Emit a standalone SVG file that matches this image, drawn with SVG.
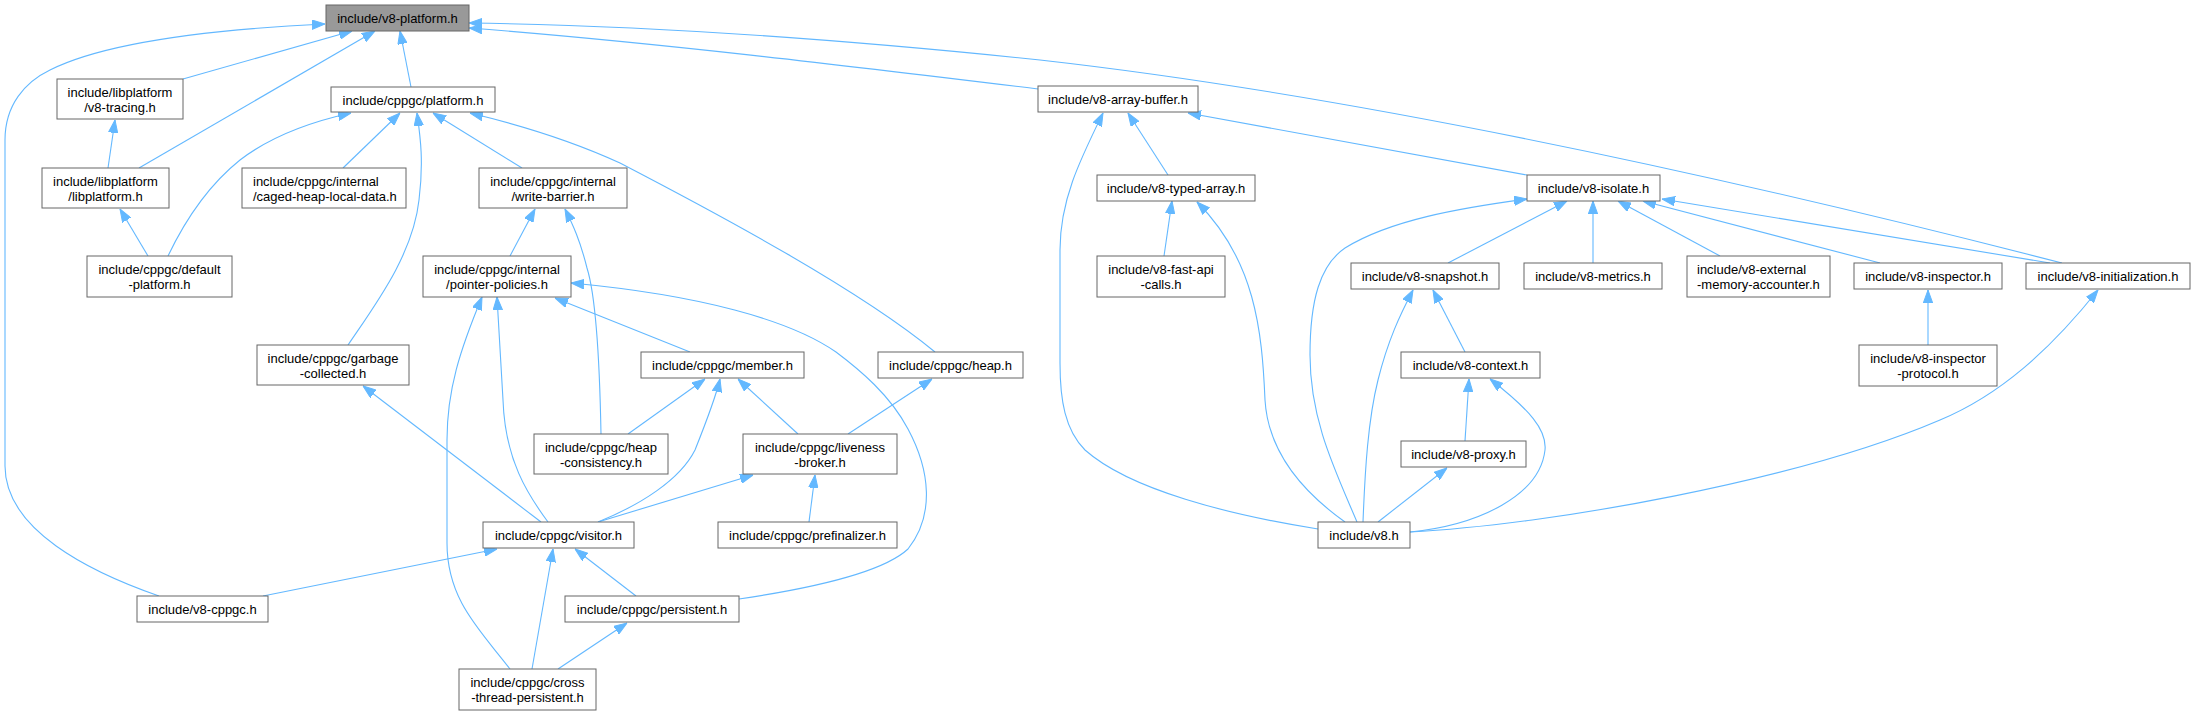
<svg xmlns="http://www.w3.org/2000/svg" width="2195" height="716" viewBox="0 0 2195 716">
<style>
.n rect{fill:#ffffff;stroke:#666666;stroke-width:1}
.n.root rect{fill:#999999}
.n text{font-family:"Liberation Sans",Arial,Helvetica,sans-serif;font-size:13px;fill:#000000;text-anchor:middle}
.n text.l{text-anchor:start}
#edges path{fill:none;stroke:#63b8ff;stroke-width:1.1;marker-end:url(#a)}
</style>
<defs>
<marker id="a" viewBox="0 0 13 10" refX="13" refY="5" markerWidth="13" markerHeight="10" orient="auto" markerUnits="userSpaceOnUse">
<path d="M0,0.3 L13,5 L0,9.7 z" fill="#63b8ff" stroke="#63b8ff" stroke-width="1"/>
</marker>
</defs>
<rect width="2195" height="716" fill="#ffffff"/>
<g id="edges">
<path d="M159,596 C90,572 5,530 5,466 L5,140 C5,105 25,82 50,70 C100,45 200,30 325,24"/>
<path d="M183,79 L352,31"/>
<path d="M139,168 L375,31"/>
<path d="M411,87 L400,31"/>
<path d="M108,168 L115,120"/>
<path d="M148,256 L120,209"/>
<path d="M168,256 C190,210 215,180 240,160 C270,137 310,122 351,113"/>
<path d="M343,168 L400,113"/>
<path d="M348,345 C375,305 413,255 419,200 C424,160 420,135 417,113"/>
<path d="M522,168 L433,113"/>
<path d="M935,352 C860,290 720,215 620,163 C570,140 520,125 470,113"/>
<path d="M510,256 L535,209"/>
<path d="M601,434 C600,380 597,300 587,268 C580,240 573,225 565,209"/>
<path d="M510,669 C480,630 447,600 447,543 L447,440 C447,390 460,350 482,297"/>
<path d="M548,522 C528,495 505,460 503,400 L497,297"/>
<path d="M690,352 L555,298"/>
<path d="M739,599 C800,590 880,575 908,549 C935,515 930,470 908,429 C890,395 860,370 836,352 C790,320 700,295 571,283"/>
<path d="M628,434 L705,379"/>
<path d="M598,522 C640,505 680,480 695,450 C705,425 715,400 720,379"/>
<path d="M798,434 L738,379"/>
<path d="M848,434 L932,379"/>
<path d="M598,522 L753,475"/>
<path d="M809,522 L815,475"/>
<path d="M636,596 L575,549"/>
<path d="M532,669 L553,549"/>
<path d="M558,669 L627,623"/>
<path d="M263,596 L497,549"/>
<path d="M541,522 L363,386"/>
<path d="M1038,89 C850,66 650,42 469,28"/>
<path d="M2062,263 C1700,170 1350,95 1040,60 C800,35 620,25 469,23"/>
<path d="M1168,175 L1128,113"/>
<path d="M1318,529 C1230,515 1130,490 1085,450 C1065,430 1060,400 1060,363 L1060,250 C1060,200 1080,160 1103,113"/>
<path d="M1164,256 L1172,201"/>
<path d="M1345,522 C1300,490 1268,450 1265,400 C1262,330 1255,260 1197,202"/>
<path d="M1527,175 L1188,113"/>
<path d="M1357,522 C1335,470 1310,420 1310,355 C1310,300 1320,265 1345,248 C1390,220 1460,208 1527,199"/>
<path d="M1448,263 L1567,201"/>
<path d="M1593,263 L1593,201"/>
<path d="M1720,256 L1618,201"/>
<path d="M1880,263 L1643,201"/>
<path d="M2050,263 L1662,199"/>
<path d="M1465,352 L1433,290"/>
<path d="M1363,522 C1365,470 1368,420 1378,380 C1388,340 1400,315 1413,290"/>
<path d="M1465,441 L1469,379"/>
<path d="M1378,522 L1447,468"/>
<path d="M1410,532 C1480,525 1540,495 1545,450 C1547,430 1530,410 1490,379"/>
<path d="M1410,532 C1550,525 1800,480 1940,420 C2000,395 2050,350 2098,290"/>
<path d="M1928,345 L1928,290"/>
</g>
<g id="n_v8platform" class="n root"><rect x="326" y="5" width="143" height="26"/><text x="397.5" y="22.5">include/v8-platform.h</text></g>
<g id="n_tracing" class="n"><rect x="57" y="79" width="126" height="40"/><text x="120" y="96.5">include/libplatform</text><text x="120" y="111.5">/v8-tracing.h</text></g>
<g id="n_libplatform" class="n"><rect x="42" y="168" width="127" height="40"/><text x="105.5" y="185.5">include/libplatform</text><text x="105.5" y="200.5">/libplatform.h</text></g>
<g id="n_cppgcplatform" class="n"><rect x="331" y="87" width="164" height="25"/><text x="413" y="104.5">include/cppgc/platform.h</text></g>
<g id="n_caged" class="n"><rect x="242" y="168" width="164" height="40"/><text class="l" x="253" y="185.5">include/cppgc/internal</text><text class="l" x="253" y="200.5">/caged-heap-local-data.h</text></g>
<g id="n_writebarrier" class="n"><rect x="479" y="168" width="148" height="40"/><text x="553" y="185.5">include/cppgc/internal</text><text x="553" y="200.5">/write-barrier.h</text></g>
<g id="n_default" class="n"><rect x="87" y="256" width="145" height="41"/><text x="159.5" y="273.5">include/cppgc/default</text><text x="159.5" y="288.5">-platform.h</text></g>
<g id="n_pointer" class="n"><rect x="423" y="256" width="148" height="41"/><text x="497" y="273.5">include/cppgc/internal</text><text x="497" y="288.5">/pointer-policies.h</text></g>
<g id="n_garbage" class="n"><rect x="257" y="345" width="152" height="40"/><text x="333" y="362.5">include/cppgc/garbage</text><text x="333" y="377.5">-collected.h</text></g>
<g id="n_member" class="n"><rect x="641" y="352" width="163" height="26"/><text x="722.5" y="369.5">include/cppgc/member.h</text></g>
<g id="n_heap" class="n"><rect x="878" y="352" width="145" height="26"/><text x="950.5" y="369.5">include/cppgc/heap.h</text></g>
<g id="n_heapcons" class="n"><rect x="534" y="434" width="134" height="40"/><text x="601" y="451.5">include/cppgc/heap</text><text x="601" y="466.5">-consistency.h</text></g>
<g id="n_liveness" class="n"><rect x="743" y="434" width="154" height="40"/><text x="820" y="451.5">include/cppgc/liveness</text><text x="820" y="466.5">-broker.h</text></g>
<g id="n_visitor" class="n"><rect x="483" y="522" width="151" height="26"/><text x="558.5" y="539.5">include/cppgc/visitor.h</text></g>
<g id="n_prefinalizer" class="n"><rect x="718" y="522" width="179" height="26"/><text x="807.5" y="539.5">include/cppgc/prefinalizer.h</text></g>
<g id="n_v8cppgc" class="n"><rect x="137" y="596" width="131" height="26"/><text x="202.5" y="613.5">include/v8-cppgc.h</text></g>
<g id="n_persistent" class="n"><rect x="565" y="596" width="174" height="26"/><text x="652" y="613.5">include/cppgc/persistent.h</text></g>
<g id="n_crossthread" class="n"><rect x="459" y="669" width="137" height="41"/><text x="527.5" y="686.5">include/cppgc/cross</text><text x="527.5" y="701.5">-thread-persistent.h</text></g>
<g id="n_arraybuffer" class="n"><rect x="1038" y="86" width="160" height="26"/><text x="1118" y="103.5">include/v8-array-buffer.h</text></g>
<g id="n_typedarray" class="n"><rect x="1097" y="175" width="158" height="26"/><text x="1176" y="192.5">include/v8-typed-array.h</text></g>
<g id="n_fastapi" class="n"><rect x="1097" y="256" width="128" height="41"/><text x="1161" y="273.5">include/v8-fast-api</text><text x="1161" y="288.5">-calls.h</text></g>
<g id="n_isolate" class="n"><rect x="1527" y="175" width="133" height="26"/><text x="1593.5" y="192.5">include/v8-isolate.h</text></g>
<g id="n_snapshot" class="n"><rect x="1351" y="263" width="148" height="26"/><text x="1425" y="280.5">include/v8-snapshot.h</text></g>
<g id="n_metrics" class="n"><rect x="1524" y="263" width="138" height="26"/><text x="1593" y="280.5">include/v8-metrics.h</text></g>
<g id="n_external" class="n"><rect x="1687" y="256" width="143" height="41"/><text class="l" x="1697" y="273.5">include/v8-external</text><text class="l" x="1697" y="288.5">-memory-accounter.h</text></g>
<g id="n_inspector" class="n"><rect x="1854" y="263" width="148" height="26"/><text x="1928" y="280.5">include/v8-inspector.h</text></g>
<g id="n_initialization" class="n"><rect x="2026" y="263" width="164" height="26"/><text x="2108" y="280.5">include/v8-initialization.h</text></g>
<g id="n_inspectorprotocol" class="n"><rect x="1859" y="345" width="138" height="41"/><text x="1928" y="362.5">include/v8-inspector</text><text x="1928" y="377.5">-protocol.h</text></g>
<g id="n_context" class="n"><rect x="1401" y="352" width="139" height="26"/><text x="1470.5" y="369.5">include/v8-context.h</text></g>
<g id="n_proxy" class="n"><rect x="1401" y="441" width="125" height="26"/><text x="1463.5" y="458.5">include/v8-proxy.h</text></g>
<g id="n_v8" class="n"><rect x="1318" y="522" width="92" height="26"/><text x="1364" y="539.5">include/v8.h</text></g>
</svg>
